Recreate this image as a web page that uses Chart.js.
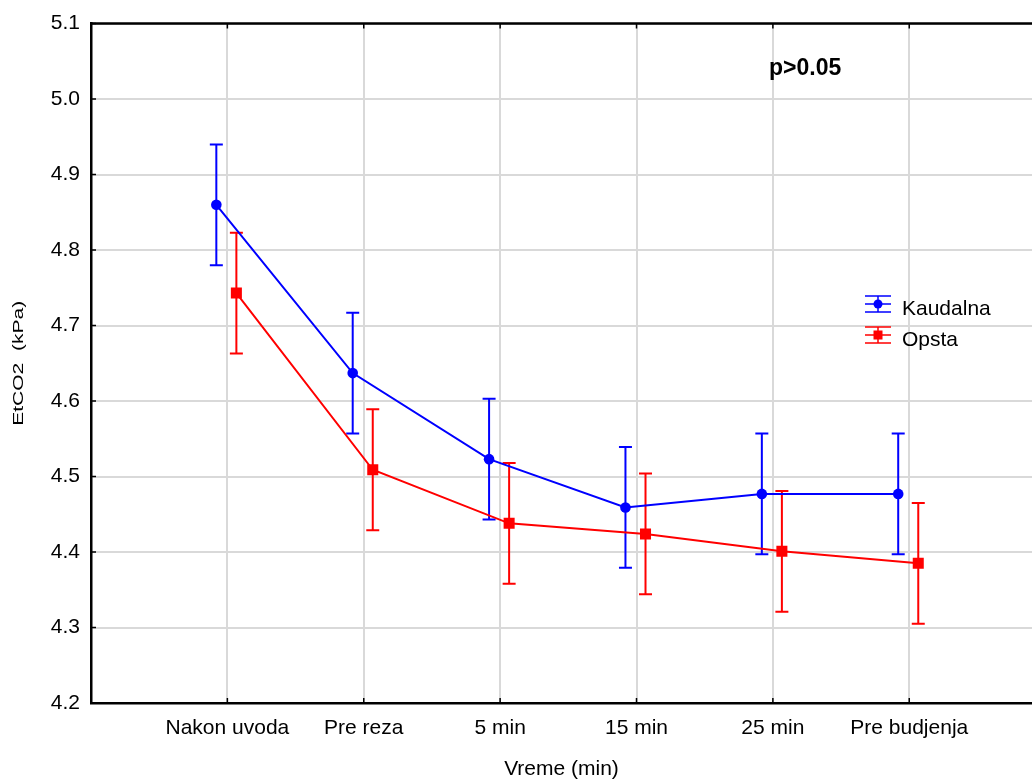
<!DOCTYPE html>
<html>
<head>
<meta charset="utf-8">
<script src="https://cdn.jsdelivr.net/npm/chart.js@4/dist/chart.umd.min.js"></script>
<style>
  body { margin: 0; background: #fff; }
  canvas { display: block; }
</style>
</head>
<body>
<canvas id="chart" width="1032" height="782"></canvas>
<script>
const categories = ['Nakon uvoda', 'Pre reza', '5 min', '15 min', '25 min', 'Pre budjenja'];
const kaudalna = [4.860, 4.637, 4.523, 4.459, 4.477, 4.477];
const kaudalnaErr = [0.080, 0.080, 0.080, 0.080, 0.080, 0.080];
const opsta = [4.743, 4.509, 4.438, 4.424, 4.401, 4.385];
const opstaErr = [0.080, 0.080, 0.080, 0.080, 0.080, 0.080];
const seriesNames = ['Kaudalna', 'Opsta'];
const annotation = 'p>0.05';
const yTitle = 'EtCO2  (kPa)';

const FONT = '"Liberation Sans", Arial, sans-serif';
const BLUE = '#0000ff', RED = '#ff0000';
const errors = [kaudalnaErr, opstaErr];

// blue group drawn a bit left of the category line, red a bit right
function points(values, shift) {
    return values.map((v, i) => ({ x: i + shift, y: v }));
}

const errorBars = {
    id: 'errorBars',
    beforeDatasetsDraw(chart) {
        const { ctx, scales: { y } } = chart;
        chart.data.datasets.forEach((ds, i) => {
            const meta = chart.getDatasetMeta(i);
            ctx.save();
            ctx.strokeStyle = ds.borderColor;
            ctx.lineWidth = 2;
            meta.data.forEach((pt, j) => {
                const v = ds.data[j].y, e = errors[i][j];
                const top = y.getPixelForValue(v + e);
                const bot = y.getPixelForValue(v - e);
                ctx.beginPath();
                ctx.moveTo(pt.x, top); ctx.lineTo(pt.x, bot);
                ctx.moveTo(pt.x - 6.5, top); ctx.lineTo(pt.x + 6.5, top);
                ctx.moveTo(pt.x - 6.5, bot); ctx.lineTo(pt.x + 6.5, bot);
                ctx.stroke();
            });
            ctx.restore();
        });
    }
};

const frame = {
    id: 'frame',
    afterDraw(chart) {
        const { ctx, chartArea: a, scales: { x, y } } = chart;
        ctx.save();
        ctx.strokeStyle = '#000';
        ctx.lineWidth = 2.5;
        ctx.beginPath();
        ctx.moveTo(a.left - 1, a.top); ctx.lineTo(a.right, a.top);
        ctx.stroke();
        ctx.lineWidth = 1.5;
        ctx.beginPath();
        y.ticks.forEach(t => {
            const py = y.getPixelForValue(t.value);
            ctx.moveTo(a.left, py); ctx.lineTo(a.left + 5, py);
        });
        x.ticks.forEach(t => {
            const px = x.getPixelForValue(t.value);
            ctx.moveTo(px, a.bottom); ctx.lineTo(px, a.bottom - 5);
            ctx.moveTo(px, a.top); ctx.lineTo(px, a.top + 5);
        });
        ctx.stroke();

        // y title: narrow, stretched lettering as in the original
        ctx.fillStyle = '#000';
        ctx.save();
        ctx.translate(19, (a.top + a.bottom) / 2);
        ctx.rotate(-Math.PI / 2);
        ctx.scale(1.4, 1);
        ctx.font = '15px ' + FONT;
        ctx.textAlign = 'center';
        ctx.textBaseline = 'middle';
        ctx.fillText(yTitle, 0, 0);
        ctx.restore();

        // annotation
        ctx.font = 'bold 23px ' + FONT;
        ctx.textBaseline = 'alphabetic';
        ctx.fillText(annotation, 769, 75);

        // legend
        const colors = [BLUE, RED];
        const styles = ['circle', 'rect'];
        ctx.font = '21px ' + FONT;
        seriesNames.forEach((name, i) => {
            const cx = 878, cy = 304 + i * 31;
            ctx.strokeStyle = colors[i];
            ctx.fillStyle = colors[i];
            ctx.lineWidth = 1.5;
            ctx.beginPath();
            ctx.moveTo(865, cy - 8); ctx.lineTo(891, cy - 8);
            ctx.moveTo(865, cy + 8); ctx.lineTo(891, cy + 8);
            ctx.moveTo(865, cy); ctx.lineTo(891, cy);
            ctx.moveTo(cx, cy - 8); ctx.lineTo(cx, cy + 8);
            ctx.stroke();
            if (styles[i] === 'circle') {
                ctx.beginPath(); ctx.arc(cx, cy, 4.5, 0, Math.PI * 2); ctx.fill();
            } else {
                ctx.fillRect(cx - 4.5, cy - 4.5, 9, 9);
            }
            ctx.fillStyle = '#000';
            ctx.fillText(name, 902, cy + 11);
        });
        ctx.restore();
    }
};

new Chart(document.getElementById('chart'), {
    type: 'line',
    data: {
        datasets: [{
            label: seriesNames[0],
            data: points(kaudalna, -0.081),
            borderColor: BLUE,
            backgroundColor: BLUE,
            borderWidth: 2,
            pointStyle: 'circle',
            pointRadius: 5.3,
            pointBorderWidth: 0
        }, {
            label: seriesNames[1],
            data: points(opsta, 0.066),
            borderColor: RED,
            backgroundColor: RED,
            borderWidth: 2,
            pointStyle: 'rect',
            pointRadius: 7.8,
            pointBorderWidth: 0
        }]
    },
    options: {
        responsive: false,
        animation: false,
        layout: { autoPadding: false, padding: { top: 23, right: 0, left: 0, bottom: 0 } },
        plugins: {
            legend: { display: false },
            tooltip: { enabled: false }
        },
        scales: {
            x: {
                type: 'linear',
                min: -1,
                max: 5.9,
                afterBuildTicks: (s) => { s.ticks = categories.map((c, i) => ({ value: i })); },
                afterFit: (s) => { s.height = 79; },
                grid: { color: '#d9d9d9', lineWidth: 2, drawTicks: false },
                border: { color: '#000', width: 2.5 },
                ticks: {
                    callback: (v) => categories[v],
                    padding: 13,
                    maxRotation: 0,
                    autoSkip: false,
                    color: '#000',
                    font: { family: FONT, size: 21 }
                },
                title: {
                    display: true,
                    text: 'Vreme (min)',
                    color: '#000',
                    padding: { top: 4, bottom: 0 },
                    font: { family: FONT, size: 21 }
                }
            },
            y: {
                min: 4.2,
                max: 5.1,
                afterFit: (s) => { s.width = 91; },
                grid: { color: '#d9d9d9', lineWidth: 2, drawTicks: false },
                border: { color: '#000', width: 2.5 },
                ticks: {
                    stepSize: 0.1,
                    callback: (v) => v.toFixed(1),
                    padding: 11,
                    color: '#000',
                    font: { family: FONT, size: 21 }
                }
            }
        }
    },
    plugins: [errorBars, frame]
});
</script>
</body>
</html>
